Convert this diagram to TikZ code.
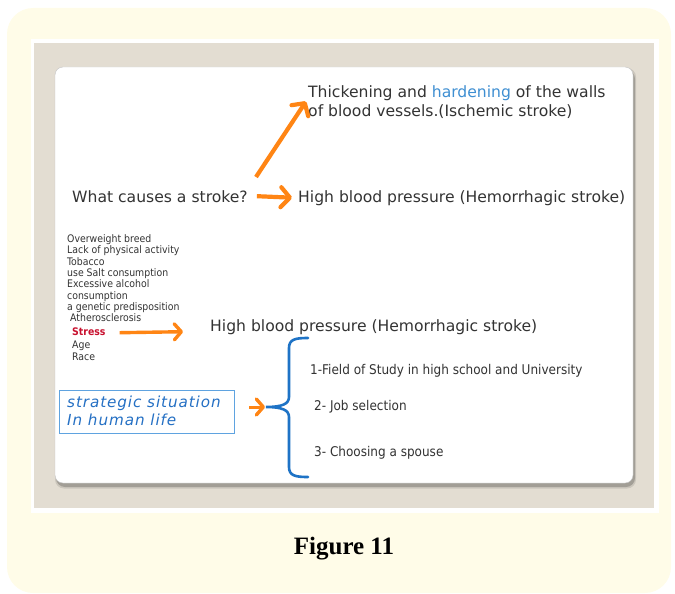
\documentclass[tikz,border=0pt]{standalone}
\usepackage{fontspec}
\setmainfont{DejaVu Sans}
\newfontfamily\condf{DejaVu Sans Condensed}
\newfontfamily\figf{Liberation Serif}
\newfontfamily\stratf[LetterSpace=6]{DejaVu Sans}
\usetikzlibrary{arrows.meta}
\definecolor{cream}{HTML}{FFFCE8}
\definecolor{bggrey}{HTML}{E3DDD2}
\definecolor{cardline}{HTML}{C4C4C4}
\definecolor{textgray}{HTML}{333333}
\definecolor{hblue}{HTML}{3F8FD2}
\definecolor{sblue}{HTML}{2570C4}
\definecolor{boxblue}{HTML}{5FA3E0}
\definecolor{braceblue}{HTML}{1E73C6}
\definecolor{arrorange}{HTML}{FF8514}
\definecolor{stressred}{HTML}{C8102E}
\begin{document}
\begin{tikzpicture}[x=1pt,y=-1pt,
  txt/.style={inner sep=0pt, anchor=base west, text=textgray},
  bigtxt/.style={txt, font=\fontsize{15.6}{19}\selectfont},
  midtxt/.style={txt, font=\condf\fontsize{13.4}{16}\selectfont},
  smalltxt/.style={txt, font=\condf\fontsize{10.4}{12}\selectfont},
  strattxt/.style={inner sep=0pt, anchor=base west, text=sblue, font=\stratf\itshape\fontsize{15.2}{18}\selectfont},
  bigarrow/.style={draw=arrorange, line width=4.2pt,
    -{Straight Barb[length=9pt,width=20pt,line width=4.2pt,round]}},
  smallarrow/.style={draw=arrorange, line width=3.4pt,
    -{Straight Barb[length=7pt,width=16pt,line width=3.4pt,round]}}]
\useasboundingbox (0,0) rectangle (675,594);
% backgrounds
\fill[cream] (7,8) [rounded corners=26pt] rectangle (671,593);
\fill[white] (31,39) rectangle (659,513);
\fill[bggrey] (33.5,43) rectangle (654,508);
\fill[black,opacity=0.2,rounded corners=9pt] (56,70) rectangle (635,487);
\fill[black,opacity=0.1,rounded corners=9pt] (55,68) rectangle (636,488.5);
\draw[cardline,fill=white,rounded corners=8pt] (55,67) rectangle (633,483);
% top part
\node[bigtxt] (th1) at (308,98) {Thickening and {\color{hblue}hardening} of the walls};
\node[bigtxt] (th2) at (308,117) {of blood vessels.(Ischemic stroke)};
\node[bigtxt] (q) at (72,202) {What causes a stroke?};
\node[bigtxt] (hbp1) at (298,202) {High blood pressure (Hemorrhagic stroke)};
\coordinate (d1) at (256,177);
\draw[bigarrow] (d1) -- ([xshift=-2pt]th1.south west);
\draw[bigarrow] ([xshift=9pt]q.east) -- ([xshift=-6pt]hbp1.west);
% list
\node[smalltxt] (l1) at (67,242) {Overweight breed};
\node[smalltxt] (l2) at (67,253.5) {Lack of physical activity};
\node[smalltxt] (l3) at (67,265) {Tobacco};
\node[smalltxt] (l4) at (67,276) {use Salt consumption};
\node[smalltxt] (l5) at (67,287.5) {Excessive alcohol};
\node[smalltxt] (l6) at (67,299) {consumption};
\node[smalltxt] (l7) at (67,310) {a genetic predisposition};
\node[smalltxt] (l8) at (70,321.5) {Atherosclerosis};
\node[smalltxt,text=stressred,font=\condf\bfseries\fontsize{10.4}{12}\selectfont] (l9) at (72,335.5) {Stress};
\node[smalltxt] (l10) at (72,348) {Age};
\node[smalltxt] (l11) at (72,360) {Race};
\node[bigtxt] (hbp2) at (210,331) {High blood pressure (Hemorrhagic stroke)};
\draw[smallarrow] ([xshift=14pt,yshift=-1pt]l9.east) -- ([xshift=-27pt]hbp2.west |- l9.east);
% strategic
\node[draw=boxblue, line width=1.3pt, minimum width=175pt, minimum height=43pt, anchor=north west,
  inner sep=0pt] (strat) at (59,390) {};
\node[strattxt] (s1) at (67,407) {strategic situation};
\node[strattxt] (s2) at (67,425) {In human life};
\coordinate (bt) at (266,407);
\draw[braceblue, line width=2.6pt, line cap=round]
  (308,338) .. controls (296,338) and (289,339) .. (289,348) -- (289,397)
  .. controls (289,404) and (282,407) .. (bt)
  .. controls (282,407) and (289,410) .. (289,417) -- (289,467)
  .. controls (289,476) and (296,477) .. (308,477);
\draw[smallarrow, line width=3pt] ([xshift=14pt]strat.east |- bt) -- ([xshift=-1pt]bt);
\node[midtxt] (i1) at (310,374) {1-Field of Study in high school and University};
\node[midtxt] (i2) at (314,410) {2- Job selection};
\node[midtxt] (i3) at (314,456) {3- Choosing a spouse};
% caption
\node[inner sep=0pt, anchor=base, font=\figf\bfseries\fontsize{25}{30}\selectfont] (cap) at (344,554) {Figure 11};
\end{tikzpicture}
\end{document}
